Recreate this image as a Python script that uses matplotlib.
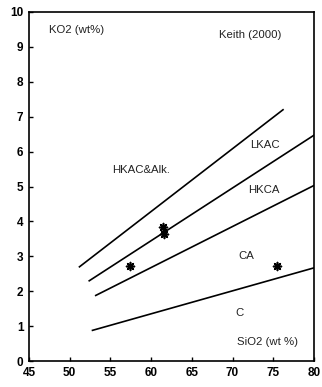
#!/usr/bin/env python3

import matplotlib
matplotlib.use("Agg")
import matplotlib.pyplot as plt

plt.rcParams["font.family"] = ["Liberation Sans", "DejaVu Sans"]

# boundary lines (SiO2, K2O) endpoints
line_hkac_lkac_x = [51.2, 76.2]
line_hkac_lkac_y = [2.7, 7.2]
line_lkac_hkca_x = [52.4, 80.0]
line_lkac_hkca_y = [2.3, 6.47]
line_hkca_ca_x = [53.2, 80.0]
line_hkca_ca_y = [1.88, 5.03]
line_ca_c_x = [52.8, 80.0]
line_ca_c_y = [0.88, 2.67]

# samples
sample_sio2 = [57.4, 61.5, 61.6, 75.5]
sample_k2o = [2.72, 3.85, 3.63, 2.72]

xticks = [45, 50, 55, 60, 65, 70, 75, 80]
yticks = list(range(0, 11))

fig = plt.figure(figsize=(3.22, 3.87), dpi=100)
ax = fig.add_axes([0.09, 0.067, 0.885, 0.902])

for xs, ys in [(line_hkac_lkac_x, line_hkac_lkac_y),
               (line_lkac_hkca_x, line_lkac_hkca_y),
               (line_hkca_ca_x, line_hkca_ca_y),
               (line_ca_c_x, line_ca_c_y)]:
    ax.plot(xs, ys, color="black", lw=1.2)

ax.scatter(sample_sio2, sample_k2o, marker=(8, 2, 0), s=32, color="black",
           linewidths=1.2, zorder=3)

txt = dict(fontsize=8.2, color="#222222", ha="left", va="center")
ax.text(47.5, 9.48, "KO2 (wt%)", **txt)
ax.text(68.3, 9.35, "Keith (2000)", **txt)
ax.text(55.2, 5.47, "HKAC&Alk.", **txt)
ax.text(72.2, 6.2, "LKAC", **txt)
ax.text(71.9, 4.9, "HKCA", **txt)
ax.text(70.7, 3.0, "CA", **txt)
ax.text(70.3, 1.38, "C", **txt)
ax.text(70.6, 0.55, "SiO2 (wt %)", **txt)

ax.set_xlim(45, 80)
ax.set_ylim(0, 10)
ax.set_xticks(xticks)
ax.set_yticks(yticks)
ax.tick_params(direction="in", length=3, width=1, labelsize=8.5, pad=4)
for lab in ax.get_xticklabels() + ax.get_yticklabels():
    lab.set_fontweight("bold")
for sp in ax.spines.values():
    sp.set_linewidth(1.2)

plt.savefig("out.png", dpi=100)
